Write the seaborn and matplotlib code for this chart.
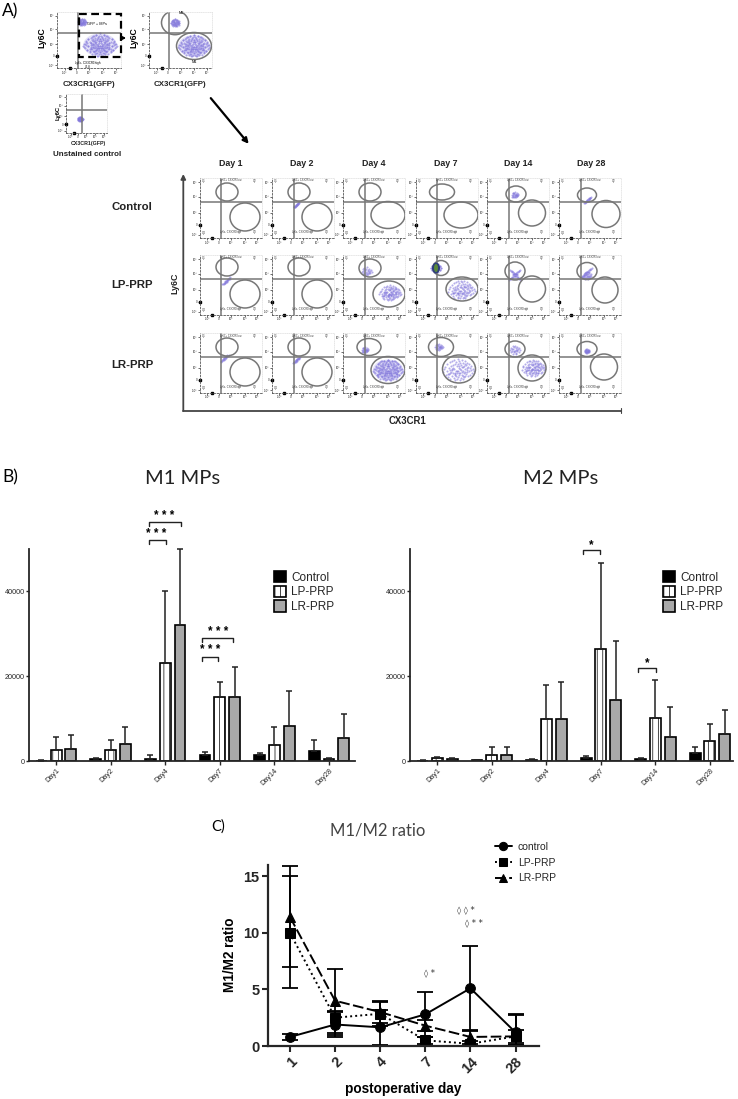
import numpy as np
import pandas as pd
import matplotlib
matplotlib.use('Agg')
import matplotlib.pyplot as plt
import seaborn as sns
from matplotlib.patches import Ellipse, Rectangle

W, H = 738, 1099
GROUPS = ['Control', 'LP-PRP', 'LR-PRP']
BAR_DAYS_M1 = ['Day1', 'Day2', 'Day4', 'Day7', 'Day14', 'Day28']

# B) bar heights and the top of each error bar
m1_control = [100, 400, 500, 1500, 1500, 2400]
m1_control_top = [150, 800, 1300, 2200, 2000, 5000]
m1_lp = [2600, 2500, 23000, 15000, 3800, 400]
m1_lp_top = [5700, 5000, 40000, 18600, 8100, 600]
m1_lr = [2750, 4000, 32100, 15000, 8300, 5500]
m1_lr_top = [6100, 8000, 50100, 22100, 16500, 11200]

m2_control = [100, 250, 350, 800, 550, 1950]
m2_control_top = [150, 350, 450, 1150, 800, 3400]
m2_lp = [600, 1500, 9850, 26400, 10200, 4600]
m2_lp_top = [1000, 3400, 17900, 46700, 19100, 8700]
m2_lr = [500, 1500, 9850, 14300, 5700, 6300]
m2_lr_top = [700, 3400, 18700, 28300, 12800, 12100]

# C) ratio
ratio_days = ['1', '2', '4', '7', '14', '28']
ratio_control = [0.8, 1.9, 1.65, 2.8, 5.1, 1.2]
ratio_control_lo = [0.55, 0.8, 0.1, 0.8, 1.35, 0.1]
ratio_control_hi = [1.05, 3.0, 3.2, 4.8, 8.85, 2.8]
ratio_lp = [10.0, 2.5, 2.85, 0.5, 0.2, 0.85]
ratio_lp_lo = [5.1, 1.0, 1.75, 0.2, 0.0, 0.3]
ratio_lp_hi = [15.0, 3.1, 3.95, 0.8, 0.4, 1.4]
ratio_lr = [11.4, 4.0, 3.0, 1.8, 0.8, 0.85]
ratio_lr_lo = [7.0, 1.15, 2.0, 1.3, 0.15, 0.1]
ratio_lr_hi = [15.9, 6.85, 3.9, 2.3, 1.45, 2.7]

# A) flow clouds, hand read, offsets from the cloud centre in px of the big panels
big_x = [-15, -13, -12, -11, -11, -10, -9, -9, -8, -8, -7, -7, -6, -6, -6, -5, -5, -4, -4, -4, -3, -3, -3,
         -2, -2, -2, -1, -1, -1, 0, 0, 0, 0, 1, 1, 1, 2, 2, 2, 3, 3, 3, 4, 4, 4, 5, 5, 5, 6, 6, 6, 7, 7, 7,
         8, 8, 9, 9, 10, 10, 11, 11, 12, 12, 13, 14, 15, 16, -14, -8, -3, 2, 7, 13, -10, -5, 1, 5, 9, -6.5,
         -1.5, 3.5, 8.5, -3.5, 0.5, 4.5, -8.5, 6.5]
big_y = [2, -3, 5, -6, 1, 7, -2, 4, -8, 9, -4, 2, -9, 6, 0, -5, 3, -10, 8, -1, -6, 4, 10, -8, 1, 6, -4, 3, 9,
         -11, -6, 1, 7, -9, -2, 5, -7, 3, 10, -5, 0, 8, -10, -3, 5, -7, 1, 9, -4, 3, 7, -9, -1, 6,
         -5, 4, -7, 2, -3, 6, -6, 1, -2, 5, -4, 3, -1, 1, -1, 0, 3, -1, 2, 0, 4, -2, 3, -3, 0, -1,
         1, 2, -2, 5, -4, 6, 3, -6]
small_x = [-4, -3.5, -3, -2.5, -2, -2, -1.5, -1, -1, -0.5, 0, 0, 0.5, 1, 1, 1.5, 2, 2, 2.5, 3, 3.5, 4, -2.8, 0.8]
small_y = [0, 2, -2, 1, -3, 3, -1, -2.5, 2, 0.5, -3.5, 1, 3, -1.5, 2.2, 0, -2.5, 1.2, -0.5, 1.5, -1.5, 0.3, -0.5, -0.3]
diag_x = [-6, -5, -4.5, -4, -3, -3, -2, -2, -1, -1, 0, 0, 1, 1, 2, 2, 3, 3.5, 4, 5]
diag_y = [5, 4.5, 3, 4, 3.5, 2, 2.5, 0.5, 1.5, -0.5, 1, -1, -0.5, -2, -1, -3, -2.5, -4, -3.5, -5]
CLOUDS = {'big': (big_x, big_y), 'small': (small_x, small_y), 'diag': (diag_x, diag_y)}

# gates per grid panel: upper ellipse and lower ellipse (x, y, w, h inside the panel)
upper_gates = [
    [(27, 14, 22, 18), (27, 14, 22, 18), (27, 14, 22, 18), (26, 14, 25, 16), (29, 16, 20, 16), (28, 17, 19, 14)],
    [(27, 12, 22, 18), (27, 12, 22, 18), (27, 13, 22, 18), (25, 13, 16, 15), (28, 16, 20, 18), (28, 16, 20, 17)],
    [(27, 14, 22, 18), (27, 14, 22, 18), (26, 14, 24, 17), (25, 14, 25, 19), (28, 16, 20, 16), (28, 16, 20, 15)],
]
lower_gates = [
    [(45, 39, 30, 28), (45, 39, 30, 28), (45, 37, 34, 27), (45, 37, 34, 26), (45, 35, 27, 26), (47, 36, 28, 27)],
    [(45, 39, 30, 28), (45, 39, 30, 28), (46, 39, 32, 26), (46, 34, 32, 24), (45, 34, 27, 26), (46, 35, 26, 26)],
    [(45, 39, 30, 28), (45, 39, 30, 28), (45, 37, 34, 27), (43, 36, 33, 28), (45, 35, 28, 26), (45, 34, 27, 26)],
]
# row, col -> clouds (kind, x, y, scale, repeats)
grid_clouds = {
    (0, 1): [('diag', 24.7, 27, 0.5, 1)],
    (0, 4): [('small', 28, 17, 0.8, 1)],
    (0, 5): [('diag', 29, 22, 0.6, 1)],
    (1, 0): [('diag', 26.7, 26, 0.7, 1)],
    (1, 2): [('small', 23.7, 16.7, 1.2, 1), ('big', 47, 38, 0.7, 1)],
    (1, 3): [('small', 20, 13, 1.2, 2), ('big', 45, 35, 0.85, 1)],
    (1, 4): [('diag', 28, 20, 1.0, 2)],
    (1, 5): [('diag', 27.7, 18, 1.0, 1), ('small', 28, 21, 1.0, 1)],
    (2, 0): [('diag', 25, 25, 0.7, 1)],
    (2, 1): [('diag', 24.7, 27, 0.6, 1)],
    (2, 2): [('small', 22, 17, 0.8, 1), ('big', 45, 37, 0.95, 2)],
    (2, 3): [('small', 23, 14, 0.9, 1), ('big', 42, 37, 1.0, 1)],
    (2, 4): [('small', 28, 17, 1.2, 1), ('big', 46, 35, 0.75, 1)],
    (2, 5): [('small', 28, 18, 0.6, 1)],
}
col_lefts = [200, 272, 343, 416, 487, 559]
row_tops = [178, 255, 333]
day_names = ['Day 1', 'Day 2', 'Day 4', 'Day 7', 'Day 14', 'Day 28']
day_centers = [231, 302, 374, 446, 518, 591]
row_names = ['Control', 'LP-PRP', 'LR-PRP']
row_label_y = [207, 285, 365]

sns.set_theme(style='ticks')
plt.rcParams['font.family'] = ['Liberation Sans', 'DejaVu Sans']
plt.rcParams['hatch.linewidth'] = 0.5

fig = plt.figure(figsize=(W / 100, H / 100), dpi=100)
fig.patch.set_facecolor('white')


def px_axes(left, top, right, bottom):
    return fig.add_axes([left / W, 1 - bottom / H, (right - left) / W, (bottom - top) / H])


POINT_COLOR = '#8277dc'
GATE_COLOR = '#777777'


def flow_panel(left, top, w, h, vgate, hgate, clouds=(), gates=(), tiny=True):
    ax = px_axes(left, top, left + w, top + h)
    ax.set_xlim(0, w)
    ax.set_ylim(h, 0)
    ax.patch.set_alpha(0)
    for kind, cx, cy, scale, repeats in clouds:
        xs, ys = CLOUDS[kind]
        if kind == 'big' and repeats > 1:
            # pale haze below the dense populations
            ax.add_patch(Ellipse((cx, cy), 32 * scale, 22 * scale, fc='#cfcbf3', ec='none', alpha=0.55))
        for r in range(repeats):
            # second pass is mirrored so that dense populations fill in
            sign = 1 - 2 * r
            frame = pd.DataFrame({'x': cx + sign * scale * np.array(xs), 'y': cy + scale * np.array(ys)})
            sns.scatterplot(data=frame, x='x', y='y', s=2.2, color=POINT_COLOR, alpha=0.6,
                            linewidth=0, ax=ax, legend=False)
    ax.axvline(vgate, color=GATE_COLOR, lw=1.1)
    ax.axhline(hgate, color=GATE_COLOR, lw=1.1)
    for (x, y, ew, eh) in gates:
        ax.add_patch(Ellipse((x, y), ew, eh, fill=False, ec=GATE_COLOR, lw=1.1))
    for name in ['top', 'right']:
        ax.spines[name].set_color('#dddddd')
        ax.spines[name].set_linewidth(0.5)
        ax.spines[name].set_linestyle(':')
    for name in ['left', 'bottom']:
        ax.spines[name].set_color('#555555')
        ax.spines[name].set_linewidth(0.6)
        ax.spines[name].set_linestyle((0, (2, 2)))
    ax.set_xticks([w * f for f in (0.12, 0.3, 0.5, 0.72, 0.92)])
    ax.set_yticks([h * f for f in (0.07, 0.31, 0.58, 0.78, 0.95)])
    ax.set_xticklabels(['-10³', '0', '10³', '10⁴', '10⁵'], fontsize=2.2)
    ax.set_yticklabels(['10⁵', '10⁴', '10³', '0', '-10³'], fontsize=2.2)
    ax.tick_params(length=1.2, width=0.5, pad=0.6, color='#333333')
    ax.plot([w * 0.2], [h], marker='s', ms=1.8, color='black', clip_on=False)
    ax.plot([0], [h * 0.78], marker='s', ms=1.8, color='black', clip_on=False)
    ax.set_xlabel('')
    ax.set_ylabel('')
    if tiny:
        ax.text(2, 4, 'Q1', fontsize=2, color='#333333')
        ax.text(w - 9, 4, 'Q2', fontsize=2, color='#333333')
        ax.text(2, h - 4, 'Q4', fontsize=2, color='#333333')
        ax.text(w - 9, h - 5, 'Q3', fontsize=2, color='#333333')
        ax.text(w * 0.32, 3.5, 'Ly6C+ CX3CR1low', fontsize=1.8, color='#333333')
        ax.text(w * 0.32, h - 5, 'Ly6c- CX3CR1high', fontsize=1.8, color='#333333')
    return ax


# panel A, upper plots
flow_panel(57, 12, 64, 56, 21, 20.7,
           clouds=[('big', 43, 33, 1.05, 2), ('small', 24.7, 10, 1.0, 2)], tiny=False)
flow_panel(149, 12, 63, 56, 20.3, 21,
           clouds=[('big', 45, 34, 1.0, 2), ('small', 26, 10.5, 1.0, 2)],
           gates=[(26, 10.7, 27, 24), (45, 34, 35, 27)], tiny=False)
flow_panel(65.7, 94, 41.3, 38.7, 16.6, 16,
           clouds=[('small', 14.5, 25, 0.6, 2)], tiny=False)

# panel A, day by group grid
grid_axes = {}
for r, top in enumerate(row_tops):
    for c, left in enumerate(col_lefts):
        grid_axes[(r, c)] = flow_panel(left, top, 62, 60, 21.5, 24,
                                       clouds=grid_clouds.get((r, c), ()),
                                       gates=[upper_gates[r][c], lower_gates[r][c]])
# the one very dense population, LP-PRP day 7
grid_axes[(1, 3)].add_patch(Ellipse((20, 13), 8, 11, fc='#2f3f7a', ec='none', zorder=3))
grid_axes[(1, 3)].add_patch(Ellipse((20, 13), 4, 8, fc='#5b8a3a', ec='none', zorder=4))


def draw_bars(ax, days, control, lp, lr, control_top, lp_top, lr_top):
    frame = pd.DataFrame({
        'day': days * 3,
        'group': [g for g in GROUPS for _ in days],
        'value': control + lp + lr,
    })
    sns.barplot(data=frame, x='day', y='value', hue='group', hue_order=GROUPS,
                palette=['black', 'white', '#a9a9a9'], width=0.813, gap=0.26,
                errorbar=None, edgecolor='black', linewidth=1.2, ax=ax)
    tops = [control_top, lp_top, lr_top]
    for cont, top_values in zip(ax.containers, tops):
        xs = [p.get_x() + p.get_width() / 2 for p in cont.patches]
        ys = [p.get_height() for p in cont.patches]
        up = np.array(top_values) - np.array(ys)
        ax.errorbar(xs, ys, yerr=[np.zeros(len(up)), up], fmt='none', ecolor='#222222',
                    elinewidth=1.1, capsize=2.2, capthick=1.1, clip_on=False)
    for p in ax.containers[1].patches:
        p.set_hatch('|||')
    ax.set_ylim(0, 50000)
    ax.set_yticks([0, 20000, 40000])
    ax.set_yticklabels(['0', '20000', '40000'], fontsize=5.2)
    ax.set_xlabel('')
    ax.set_ylabel('')
    ax.tick_params(axis='x', labelsize=5.2, length=3, width=1, pad=1.5)
    ax.tick_params(axis='y', length=2.5, width=1, pad=0.5)
    for label in ax.get_xticklabels():
        label.set_rotation(45)
        label.set_ha('right')
        label.set_rotation_mode('anchor')
    sns.despine(ax=ax)
    ax.spines['left'].set_linewidth(1.3)
    ax.spines['bottom'].set_linewidth(1.3)
    ax.patch.set_alpha(0)


ax_m1 = px_axes(29, 549, 355, 761)
draw_bars(ax_m1, BAR_DAYS_M1, m1_control, m1_lp, m1_lr, m1_control_top, m1_lp_top, m1_lr_top)
ax_m1.set_xlim(-0.495, 5.476)
ax_m2 = px_axes(410.3, 549, 733, 761)
draw_bars(ax_m2, BAR_DAYS_M1, m2_control, m2_lp, m2_lr, m2_control_top, m2_lp_top, m2_lr_top)
ax_m2.set_xlim(-0.495, 5.425)

for ax, lx in ((ax_m1, 274), (ax_m2, 663)):
    leg = ax.legend(loc='upper left', bbox_to_anchor=(lx / W, 1 - 571 / H), bbox_transform=fig.transFigure,
                    frameon=False, fontsize=8.5, handlelength=1.0, handleheight=1.1, handletextpad=0.45,
                    labelspacing=0.17, borderpad=0, borderaxespad=0, title=None)
    leg.legend_handles[1].set_hatch('|||')
    for handle in leg.legend_handles:
        handle.set_edgecolor('black')
        handle.set_linewidth(1.2)

# panel C
ratio_frame = pd.DataFrame({
    'day': ratio_days * 3,
    'group': [g for g in ['control', 'LP-PRP', 'LR-PRP'] for _ in ratio_days],
    'ratio': ratio_control + ratio_lp + ratio_lr,
})
ax_c = px_axes(267.7, 865, 539, 1046)
sns.lineplot(data=ratio_frame, x='day', y='ratio', hue='group', style='group', sort=False,
             palette=['black', 'black', 'black'],
             dashes={'control': '', 'LP-PRP': (1, 1.6), 'LR-PRP': (5.5, 1.8)},
             markers={'control': 'o', 'LP-PRP': 's', 'LR-PRP': '^'},
             markersize=7, markeredgecolor='black', linewidth=1.4, errorbar=None, ax=ax_c)
series = [(ratio_control, ratio_control_lo, ratio_control_hi),
          (ratio_lp, ratio_lp_lo, ratio_lp_hi),
          (ratio_lr, ratio_lr_lo, ratio_lr_hi)]
for mean, lo, hi in series:
    mean = np.array(mean)
    ax_c.errorbar(ratio_days, mean, yerr=[mean - np.array(lo), np.array(hi) - mean], fmt='none',
                  ecolor='black', elinewidth=1.3, capsize=6, capthick=1.3, clip_on=False)
ax_c.set_xlim(-0.494, 5.52)
ax_c.set_ylim(0, 16)
ax_c.set_yticks([0, 5, 10, 15])
ax_c.tick_params(axis='both', length=4, width=1.5, labelsize=10.5, pad=2)
for label in ax_c.get_xticklabels() + ax_c.get_yticklabels():
    label.set_fontweight('bold')
for label in ax_c.get_xticklabels():
    label.set_rotation(45)
    label.set_ha('right')
    label.set_rotation_mode('anchor')
ax_c.set_xlabel('')
ax_c.set_ylabel('')
sns.despine(ax=ax_c)
ax_c.spines['left'].set_linewidth(1.6)
ax_c.spines['bottom'].set_linewidth(1.6)
ax_c.patch.set_alpha(0)
handles, labels = ax_c.get_legend_handles_labels()
ax_c.legend(handles, labels, loc='upper left', bbox_to_anchor=(495 / W, 1 - 842 / H),
            bbox_transform=fig.transFigure, frameon=False, fontsize=7.5, handlelength=1.6,
            labelspacing=0.55, handletextpad=0.6, borderpad=0, borderaxespad=0, markerscale=0.85)

# overlay in picture pixels for labels, gates and brackets
ov = fig.add_axes([0, 0, 1, 1], zorder=10)
ov.set_xlim(0, W)
ov.set_ylim(H, 0)
ov.axis('off')
ov.patch.set_alpha(0)


def label(x, y, text, size, weight='normal', family=None, color='black', ha='center', rotation=0):
    ov.text(x, y, text, fontsize=size, fontweight=weight, family=family or 'Liberation Sans', color=color,
            ha=ha, va='center', rotation=rotation)


def bracket(x0, x1, y, stars_x, stars_y, stars):
    ov.plot([x0, x0, x1, x1], [y + 3.5, y, y, y + 3.5], color='#222222', lw=1)
    label(stars_x, stars_y, stars, 8.5, weight='bold')


label(2, 11, 'A)', 12.5, family='Lato', ha='left')
label(2, 477, 'B)', 12.5, family='Lato', ha='left')
label(211, 827, 'C)', 10.5, family='Lato', ha='left')
label(183, 478, 'M1 MPs', 14.5, family='Lato', color='#222222')
label(561, 478, 'M2 MPs', 14.5, family='Lato', color='#222222')
label(378, 830, 'M1/M2 ratio', 12, family='Lato', color='#444444')

ov.add_patch(Rectangle((79, 14), 42, 43, fill=False, ec='black', lw=1.6, ls=(0, (3.5, 2))))
label(97, 24, 'GFP + MPs', 2.8)
label(88, 65, 'Ly6c- CX3CR1high\n76.8', 2.2)
label(181, 13.5, 'M2', 2.8)
label(194, 62, 'M1', 2.8)
label(41.5, 38, 'Ly6C', 6.2, weight='bold', rotation=90)
label(133.5, 38, 'Ly6C', 6.2, weight='bold', rotation=90)
label(89, 84.5, 'CX3CR1(GFP)', 5.7, weight='bold', color='#222222')
label(180, 84.5, 'CX3CR1(GFP)', 5.7, weight='bold', color='#222222')
label(58, 113, 'Ly6C', 4.2, weight='bold', rotation=90)
label(88, 143, 'CX3CR1(GFP)', 3.8, weight='bold', color='#222222')
label(87, 154.5, 'Unstained control', 5.8, weight='bold', color='#222222')
ov.annotate('', xy=(129, 38), xytext=(118, 38),
            arrowprops=dict(arrowstyle='-|>', color='black', lw=1.3, mutation_scale=6))
ov.annotate('', xy=(250.5, 146), xytext=(209, 96),
            arrowprops=dict(arrowstyle='-|>', color='black', lw=1.6, mutation_scale=8))
ov.annotate('', xy=(183.3, 174), xytext=(183.3, 411),
            arrowprops=dict(arrowstyle='-|>', color='#444444', lw=1.3, mutation_scale=7, shrinkA=0, shrinkB=0))
ov.plot([183.3, 620.7], [410.7, 410.7], color='#444444', lw=1.3)
ov.plot([620.7, 620.7], [408, 413], color='#444444', lw=0.8)

for x, name in zip(day_centers, day_names):
    label(x, 164, name, 6.4, weight='bold', color='#222222')
for y, name in zip(row_label_y, row_names):
    label(111.5, y, name, 8.2, weight='bold', color='#222222', ha='left')
label(175, 283, 'Ly6C', 6.4, weight='bold', rotation=90, color='#222222')
label(407.5, 421, 'CX3CR1', 6.9, weight='bold', color='#222222')

# significance brackets
bracket(149, 166, 540, 156.5, 534, '* * *')
bracket(149, 180.5, 522, 164, 516, '* * *')
bracket(202, 218, 657, 210, 650, '* * *')
bracket(202, 233, 638, 218, 632, '* * *')
bracket(583, 600, 550, 591, 545, '*')
bracket(637.5, 655.5, 668, 647, 663, '*')

label(230, 955, 'M1/M2 ratio', 9.8, weight='bold', rotation=90)
label(403, 1089, 'postoperative day', 9.8, weight='bold')
label(430, 973, '◊ *', 6, family='DejaVu Sans', color='#333333')
label(466, 910, '◊ ◊ *', 6, family='DejaVu Sans', color='#333333')
label(474, 923, '◊ * *', 6, family='DejaVu Sans', color='#333333')

fig.savefig('out.png', dpi=100, facecolor='white')
